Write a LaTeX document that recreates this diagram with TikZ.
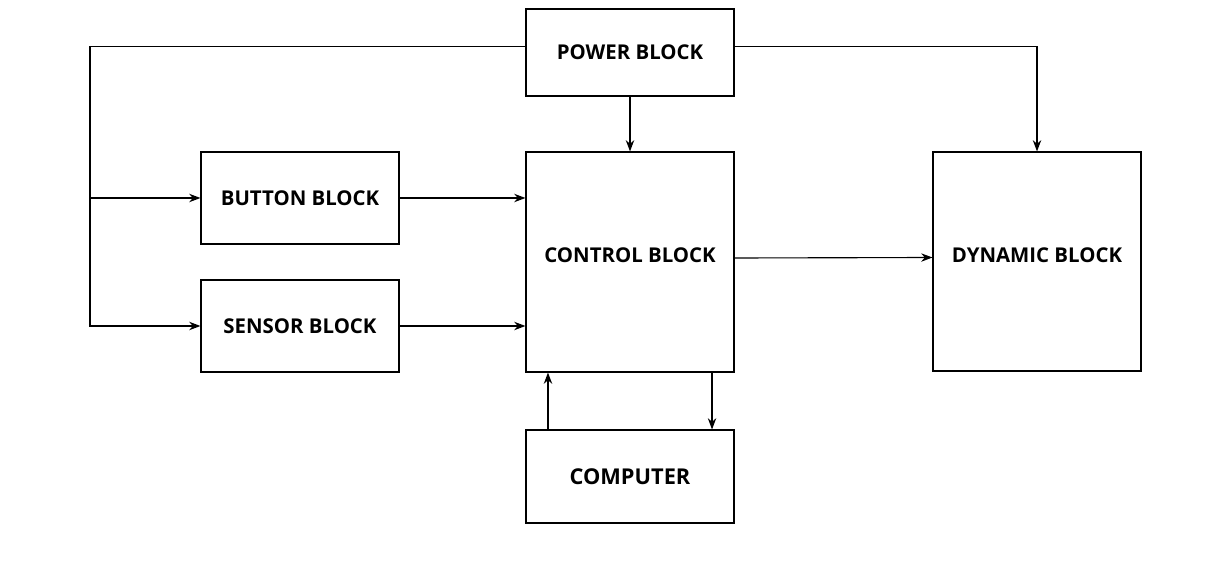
\documentclass[tikz,border=0pt]{standalone}
\usepackage{fontspec}
\setmainfont{Open Sans}
\usetikzlibrary{arrows.meta, positioning}

\begin{document}
\begin{tikzpicture}[x=0.025cm, y=-0.025cm,
    block/.style={draw, thick, inner sep=0pt, font=\fontsize{14.5}{17}\selectfont\bfseries},
    arr/.style={-{Stealth[length=8pt, width=6pt]}, thick}]
    \useasboundingbox (0,0) rectangle (1207,576);

    % blocks
    \node[block, minimum width=5.2cm, minimum height=2.175cm] (power) at (630,52.5) {POWER BLOCK};
    \node[block, minimum width=4.95cm, minimum height=2.3cm] (button) at (300,198) {BUTTON BLOCK};
    \node[block, minimum width=4.95cm, minimum height=2.3cm] (sensor) at (300,326) {SENSOR BLOCK};
    \node[block, minimum width=5.2cm, minimum height=5.5cm, text depth=4.5cm, text height=0.3cm] (control) at (630,262) {};
    \node[block, draw=none, font=\fontsize{14.5}{17}\selectfont\bfseries] (controltext) at (630,255) {CONTROL BLOCK};
    \node[block, minimum width=5.2cm, minimum height=5.475cm] (dynamic) at (1037,261.5) {};
    \node[font=\fontsize{14.5}{17}\selectfont\bfseries] (dynamictext) at (1037,255) {DYNAMIC BLOCK};
    \node[block, font=\fontsize{15.5}{18}\selectfont\bfseries, minimum width=5.2cm, minimum height=2.325cm] (computer) at (630,476.5) {COMPUTER};

    \coordinate (left) at (90,198);

    % power lines
    \draw[thick] ([yshift=0.14cm]power.west) -| (left);
    \draw[arr] (left) -- (button);
    \draw[arr] (left) |- (sensor);
    \draw[arr] ([yshift=0.14cm]power.east) -| (dynamic.north);
    \draw[arr] (power) -- (control);

    % signals
    \draw[arr] (button) -- (button -| control.west);
    \draw[arr] (sensor) -- (sensor -| control.west);
    \draw[arr] ([yshift=0.1cm]control.east) -- ([yshift=0.1cm]dynamic.west);
    \draw[arr] ([xshift=-2.05cm]computer.north) -- ([xshift=-2.05cm]control.south);
    \draw[arr] ([xshift=2.05cm]control.south) -- ([xshift=2.05cm]computer.north);
\end{tikzpicture}
\end{document}
